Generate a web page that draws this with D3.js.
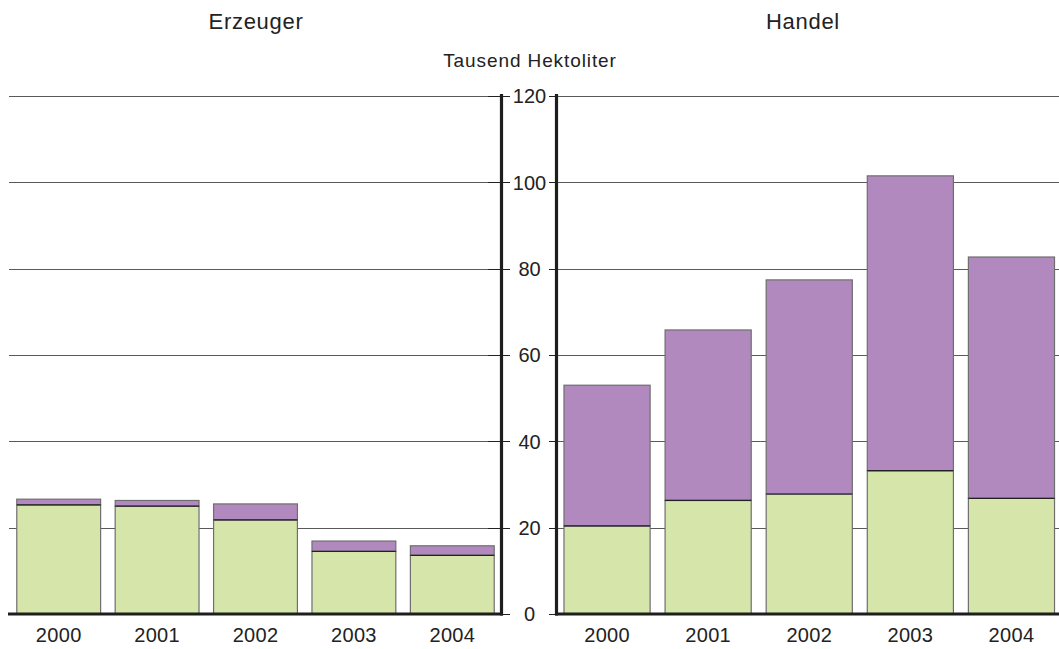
<!DOCTYPE html>
<html>
<head>
<meta charset="utf-8">
<script src="https://cdn.jsdelivr.net/npm/d3@7"></script>
<style>
  html, body { margin: 0; padding: 0; background: #fff; }
  svg { display: block; font-family: "Liberation Sans", Arial, sans-serif; }
</style>
</head>
<body>
<svg id="chart" width="1059" height="649"></svg>
<script>
// ---- data ----
const years = ["2000", "2001", "2002", "2003", "2004"];
const panelTitles = ["Erzeuger", "Handel"];
const unitLabel = "Tausend Hektoliter";
const yTicks = [0, 20, 40, 60, 80, 100, 120];
// lower (green) and upper (purple) segments, Tausend Hektoliter
const erzeugerLower = [25.3, 25.0, 21.8, 14.5, 13.6];
const erzeugerUpper = [1.3, 1.3, 3.7, 2.4, 2.2];
const handelLower = [20.4, 26.3, 27.8, 33.2, 26.8];
const handelUpper = [32.6, 39.5, 49.6, 68.3, 55.9];

// ---- layout ----
const W = 1059, H = 649;
const svg = d3.select("#chart");
const y = d3.scaleLinear().domain([0, 120]).range([614, 96]);
const colors = { lower: "#d6e6ab", upper: "#b189be" };

const panels = [
  { title: panelTitles[0], lower: erzeugerLower, upper: erzeugerUpper,
    range: [9.5, 501.5], axisX: 501.5, titleX: 256,
    gridX: [9, 510], tickX: [488, 510], baseX: [8, 503] },
  { title: panelTitles[1], lower: handelLower, upper: handelUpper,
    range: [556.5, 1062], axisX: 556.5, titleX: 803,
    gridX: [549, 1059], tickX: [549, 556], baseX: [555, 1059] }
];

panels.forEach(p => {
  const g = svg.append("g");
  const x = d3.scaleBand().domain(years).range(p.range)
    .paddingInner(0.148).paddingOuter(0.074);

  // gridlines
  g.selectAll("line.grid").data(yTicks.filter(t => t > 0)).join("line")
    .attr("x1", p.gridX[0]).attr("x2", p.gridX[1])
    .attr("y1", d => Math.round(y(d)) + 0.5).attr("y2", d => Math.round(y(d)) + 0.5)
    .attr("stroke", "#5a5a5a").attr("stroke-width", 1);
  // darker ticks at axis
  g.selectAll("line.tick").data(yTicks).join("line")
    .attr("x1", p.tickX[0]).attr("x2", p.tickX[1])
    .attr("y1", d => Math.round(y(d)) + 0.5).attr("y2", d => Math.round(y(d)) + 0.5)
    .attr("stroke", "#222").attr("stroke-width", 1);

  // stacked bars
  const rows = years.map((yr, i) => ({ year: yr, lower: p.lower[i], upper: p.upper[i] }));
  const stack = d3.stack().keys(["lower", "upper"])(rows);
  stack.forEach(series => {
    g.selectAll(null).data(series).join("rect")
      .attr("x", d => x(d.data.year))
      .attr("width", x.bandwidth())
      .attr("y", d => y(d[1]))
      .attr("height", d => y(d[0]) - y(d[1]))
      .attr("fill", colors[series.key])
      .attr("stroke", "#6e6e6e").attr("stroke-width", 1.2);
  });
  // dark boundary between segments
  g.selectAll("line.sep").data(rows).join("line")
    .attr("x1", d => x(d.year)).attr("x2", d => x(d.year) + x.bandwidth())
    .attr("y1", d => y(d.lower)).attr("y2", d => y(d.lower))
    .attr("stroke", "#222").attr("stroke-width", 1.2);

  // vertical axis line
  g.append("line")
    .attr("x1", p.axisX).attr("x2", p.axisX)
    .attr("y1", y(120) - 2).attr("y2", y(0) + 1.5)
    .attr("stroke", "#1e1e1e").attr("stroke-width", 3.2);
  // baseline
  g.append("line")
    .attr("x1", p.baseX[0]).attr("x2", p.baseX[1])
    .attr("y1", y(0)).attr("y2", y(0))
    .attr("stroke", "#1e1e1e").attr("stroke-width", 3);

  // category labels
  const xAxis = d3.axisBottom(x).tickSize(0).tickPadding(0);
  const ax = g.append("g").attr("transform", `translate(0,${y(0)})`).call(xAxis);
  ax.select(".domain").remove();
  ax.selectAll("text")
    .attr("y", 28).attr("dy", 0)
    .attr("font-size", 20).attr("fill", "#222")
    .attr("font-family", "Liberation Sans, Arial, sans-serif")
    .attr("letter-spacing", "0.3px");

  // panel title
  g.append("text")
    .attr("x", p.titleX).attr("y", 29)
    .attr("text-anchor", "middle")
    .attr("font-size", 22).attr("letter-spacing", "0.7px")
    .attr("fill", "#222").text(p.title);
});

// shared value labels between the panels
svg.append("g").selectAll("text").data(yTicks).join("text")
  .attr("x", 529.5).attr("y", d => y(d))
  .attr("dy", "0.36em")
  .attr("text-anchor", "middle")
  .attr("font-size", 20).attr("fill", "#222")
  .text(d => d);

svg.append("text")
  .attr("x", 530).attr("y", 67)
  .attr("text-anchor", "middle")
  .attr("font-size", 19).attr("letter-spacing", "0.9px")
  .attr("fill", "#222").text(unitLabel);
</script>
</body>
</html>
